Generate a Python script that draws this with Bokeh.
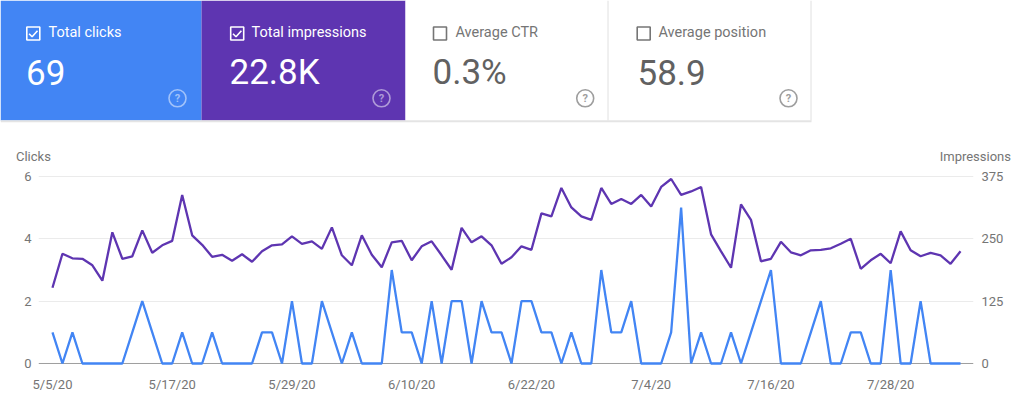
import pandas as pd
from bokeh.plotting import figure
from bokeh.models import Range1d, LinearAxis, FixedTicker, Span, ColumnDataSource
from bokeh.layouts import column
from bokeh.embed import file_html
from bokeh.resources import INLINE
from bokeh.core.properties import value

# ---------------- data ----------------
start_date = "2020-05-05"
clicks = [1, 0, 1, 0, 0, 0, 0, 0, 1, 2, 1, 0, 0,
          1, 0, 0, 1, 0, 0, 0, 0, 1, 1, 0, 2, 0,
          0, 2, 1, 0, 1, 0, 0, 0, 3, 1, 1, 0, 2,
          0, 2, 2, 0, 2, 1, 1, 0, 2, 2, 1, 1, 0,
          1, 0, 0, 3, 1, 1, 2, 0, 0, 0, 1, 5, 0,
          1, 0, 0, 1, 0, 1, 2, 3, 0, 0, 0, 1, 2,
          0, 0, 1, 1, 0, 0, 3, 0, 0, 2, 0, 0, 0, 0]
impressions = [152, 220, 211, 210, 197, 166, 263, 210, 215, 267, 222, 237, 246,
               338, 257, 238, 214, 218, 206, 219, 204, 225, 237, 239, 255, 240,
               245, 230, 273, 217, 197, 257, 218, 193, 243, 246, 207, 235, 245,
               217, 188, 272, 243, 255, 237, 200, 213, 235, 228, 301, 295, 352,
               313, 295, 288, 352, 320, 330, 320, 338, 315, 354, 370, 338, 345,
               354, 259, 225, 192, 319, 288, 205, 210, 244, 223, 217, 227, 228,
               231, 240, 250, 190, 207, 220, 201, 265, 227, 215, 222, 217, 200, 225]
tick_labels = ["5/5/20", "5/17/20", "5/29/20", "6/10/20", "6/22/20", "7/4/20", "7/16/20", "7/28/20"]
clicks_ticks = [0, 2, 4, 6]
impr_ticks = [0, 125, 250, 375]

card_titles = ["Total clicks", "Total impressions", "Average CTR", "Average position"]
card_values = ["69", "22.8K", "0.3%", "58.9"]
card_selected = [True, True, False, False]
card_colors = ["#4285F4", "#5E35B1", "#FFFFFF", "#FFFFFF"]

FONT = value("Roboto")

# ---------------- cards (top strip, page pixel coordinates) ----------------
cards = figure(width=1024, height=164, output_backend="svg", toolbar_location=None, tools="",
               x_range=Range1d(0, 1024), y_range=Range1d(164, 0),
               x_axis_type=None, y_axis_type=None, min_border=0)
cards.frame_align = False
cards.outline_line_color = None
cards.grid.visible = False
cards.background_fill_color = "white"

card_left = [0, 201, 405, 608]
card_right = [201, 405, 607, 810]
box_x = [32.8, 236.7, 439.5, 643.2]
title_x = [48, 251, 455, 658]
value_x = [25.5, 229, 432, 637]
icon_x = [177, 381, 584.7, 788]

cards.quad(left=card_left, right=card_right, top=[0] * 4, bottom=[120] * 4,
           fill_color=card_colors, line_color=None)
# borders
cards.segment(x0=[607.5, 810.5], y0=[0, 0], x1=[607.5, 810.5], y1=[120, 120],
              line_color="#e0e0e0", line_width=1)
cards.segment(x0=[0], y0=[120.8], x1=[811], y1=[120.8], line_color="#e4e4e4", line_width=2)

fg = ["white" if s else "#757575" for s in card_selected]
val_col = ["white" if s else "#616161" for s in card_selected]
icon_col = ["rgba(255,255,255,0.5)" if s else "#9e9e9e" for s in card_selected]
box_col = ["white" if s else "#757575" for s in card_selected]

cards.rect(x=box_x, y=[33] * 4, width=13, height=13, fill_alpha=0,
           line_color=box_col, line_width=1.6)
for s, bx in zip(card_selected, box_x):
    if s:
        cards.line(x=[bx - 4.2, bx - 1.2, bx + 4.2], y=[33.3, 36.3, 30.3],
                   line_color="white", line_width=1.6)

cards.text(x=title_x, y=[31.5] * 4, text=card_titles, text_color=fg, text_font=FONT,
           text_font_size="14.5px", text_align="left", text_baseline="alphabetic")
cards.text(x=value_x, y=[72] * 4, text=card_values, text_color=val_col, text_font=FONT,
           text_font_size="35px", text_align="left", text_baseline="alphabetic")
cards.scatter(x=icon_x, y=[97.8] * 4, size=17, marker="circle", fill_alpha=0,
              line_color=icon_col, line_width=1.6)
cards.text(x=icon_x, y=[97.6] * 4, text=["?"] * 4, text_color=icon_col, text_font=FONT,
           text_font_size="11px", text_font_style="bold", text_align="center",
           text_baseline="alphabetic")

cards.text(x=[15.5], y=[155.7], text=["Clicks"], text_color="#757575", text_font=FONT,
           text_font_size="13px", text_align="left", text_baseline="alphabetic")
cards.text(x=[1010.5], y=[155.7], text=["Impressions"], text_color="#757575", text_font=FONT,
           text_font_size="13px", text_align="right", text_baseline="alphabetic")

# ---------------- chart ----------------
dates = pd.date_range(start_date, periods=len(clicks))
day_labels = [f"{d.month}/{d.day}/{d.year % 100}" for d in dates]
xs = list(range(len(clicks)))
src = ColumnDataSource(dict(x=xs, clicks=clicks, impressions=impressions))

chart = figure(width=1024, height=239, output_backend="svg", toolbar_location=None, tools="",
               x_range=Range1d(-1.4, 92.3), y_range=Range1d(-0.0963, 6.1925),
               min_border_left=38, min_border_right=51, min_border_top=6, min_border_bottom=37)
chart.frame_align = False
chart.extra_y_ranges = {"imp": Range1d(-6.02, 387.03)}
chart.outline_line_color = None
chart.xgrid.visible = False
chart.ygrid.ticker = FixedTicker(ticks=clicks_ticks[1:])
chart.ygrid.grid_line_color = "#ebebeb"
chart.ygrid.grid_line_width = 1

base = Span(location=0, dimension="width", line_color="#9e9e9e", line_width=1)
base.level = "underlay"
chart.add_layout(base)

def style_axis(ax, standoff):
    ax.axis_line_color = None
    ax.major_tick_line_color = None
    ax.minor_tick_line_color = None
    ax.major_tick_out = 0
    ax.major_tick_in = 0
    ax.minor_tick_out = 0
    ax.minor_tick_in = 0
    ax.major_label_standoff = standoff
    ax.major_label_text_font = "Roboto"
    ax.major_label_text_font_size = "13px"
    ax.major_label_text_color = "#757575"

ly = chart.yaxis[0]
ly.ticker = FixedTicker(ticks=clicks_ticks)
style_axis(ly, 7)

ry = LinearAxis(y_range_name="imp", ticker=FixedTicker(ticks=impr_ticks))
style_axis(ry, 8)
chart.add_layout(ry, "right")

tick_pos = [day_labels.index(t) for t in tick_labels]
bx = chart.xaxis[0]
bx.ticker = FixedTicker(ticks=tick_pos)
bx.major_label_overrides = {p: t for p, t in zip(tick_pos, tick_labels)}
style_axis(bx, 10)

chart.line("x", "impressions", source=src, line_color="#5E35B1", line_width=2.3, y_range_name="imp")
chart.line("x", "clicks", source=src, line_color="#4285F4", line_width=2.3)

layout = column(cards, chart, spacing=0)
open("out.html", "w").write(file_html(layout, INLINE))
